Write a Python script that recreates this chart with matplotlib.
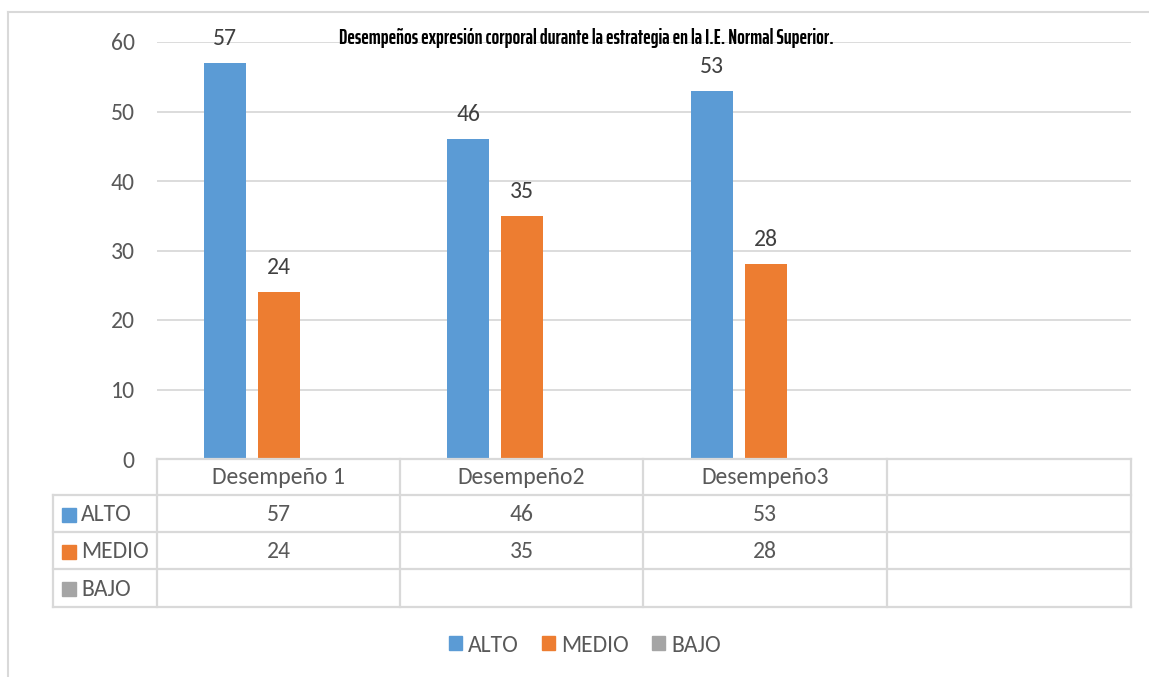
import matplotlib
matplotlib.use("Agg")
import matplotlib.pyplot as plt
from matplotlib.patches import Rectangle
from matplotlib.lines import Line2D
import numpy as np

categories = ["Desempeño 1", "Desempeño2", "Desempeño3", ""]
series_names = ["ALTO", "MEDIO", "BAJO"]
alto = [57, 46, 53, None]
medio = [24, 35, 28, None]
bajo = [None, None, None, None]
colors = ["#5B9BD5", "#ED7D31", "#A5A5A5"]
title = "Desempeños expresión corporal durante la estrategia en la I.E. Normal Superior."
yticks = [0, 10, 20, 30, 40, 50, 60]

W, H = 1149, 677
fig = plt.figure(figsize=(W / 100, H / 100), dpi=100)
plt.rcParams['font.family'] = ['Carlito', 'Open Sans', 'DejaVu Sans']
txt = "#595959"
grid = "#D9D9D9"
FS = 17

def fx(px):
    return px / W
def fy(py):
    return 1 - py / H

ax = fig.add_axes([fx(157), fy(459), fx(1131) - fx(157), fy(42) - fy(459)])
n = len(categories)
x = np.arange(n)
bw = 0.1725
off = 0.222
series = [alto, medio, bajo]
for i, (s, c) in enumerate(zip(series, colors)):
    vals = [v if v is not None else 0 for v in s]
    xs = x + (i - 1) * off
    ax.bar(xs, vals, width=bw, color=c, zorder=3)
    for xi, v in zip(xs, s):
        if v is not None:
            ax.text(xi, v + 2.0, str(v), ha="center", va="bottom", fontsize=FS, color="#404040")

ax.set_xlim(-0.5, n - 0.5)
ax.set_ylim(0, 60)
ax.set_yticks(yticks)
ax.set_yticklabels([str(t) for t in yticks], fontsize=FS, color=txt)
ax.tick_params(axis="y", length=0, pad=16)
ax.set_xticks([])
ax.grid(axis="y", color=grid, linewidth=1.3, zorder=0)
for sp in ax.spines.values():
    sp.set_visible(False)

# data table drawn in figure coordinates
row_y = [459, 495, 532, 569, 607]
col_x = [157, 400, 643, 887, 1131]
lc = "#D9D9D9"
lw = 1.6
fig.add_artist(Line2D([fx(157), fx(1131)], [fy(459), fy(459)], color=lc, lw=lw))
for yy in row_y[1:]:
    fig.add_artist(Line2D([fx(53), fx(1131)], [fy(yy), fy(yy)], color=lc, lw=lw))
for xx in col_x:
    fig.add_artist(Line2D([fx(xx), fx(xx)], [fy(459), fy(607)], color=lc, lw=lw))
fig.add_artist(Line2D([fx(53), fx(53)], [fy(495), fy(607)], color=lc, lw=lw))

# header labels
for j, cat in enumerate(categories):
    cx = (col_x[j] + col_x[j + 1]) / 2
    fig.text(fx(cx), fy((row_y[0] + row_y[1]) / 2 + 1), cat, ha="center", va="center", fontsize=FS, color=txt)
# rows
for i, (name, s, c) in enumerate(zip(series_names, series, colors)):
    cy = (row_y[i + 1] + row_y[i + 2]) / 2 + 1
    fig.add_artist(Rectangle((fx(62), fy(cy + 7)), fx(14), fy(cy - 7) - fy(cy + 7), color=c))
    fig.text(fx(81), fy(cy), name, ha="left", va="center", fontsize=FS, color=txt)
    for j, v in enumerate(s):
        if v is not None:
            cx = (col_x[j] + col_x[j + 1]) / 2
            fig.text(fx(cx), fy(cy), str(v), ha="center", va="center", fontsize=FS, color=txt)

# legend
handles = [Rectangle((0, 0), 1, 1, color=c) for c in colors]
fig.legend(handles, series_names, loc="center", bbox_to_anchor=(fx(585), fy(645)), ncol=3,
           frameon=False, fontsize=FS, handlelength=0.55, handleheight=0.55, handletextpad=0.25,
           columnspacing=1.0, labelcolor=txt)

# title
fig.text(fx(586), fy(38), title, ha="center", va="center", fontsize=14.5, fontweight="bold",
         color="black", family=["Saira ExtraCondensed", "Fira Sans Extra Condensed", "DejaVu Sans"])

# outer border
fig.add_artist(Line2D([fx(8), 1], [fy(12), fy(12)], color=lc, lw=1.5))
fig.add_artist(Line2D([fx(8), fx(8)], [fy(12), 0], color=lc, lw=1.5))

fig.savefig("out.png", dpi=100)
